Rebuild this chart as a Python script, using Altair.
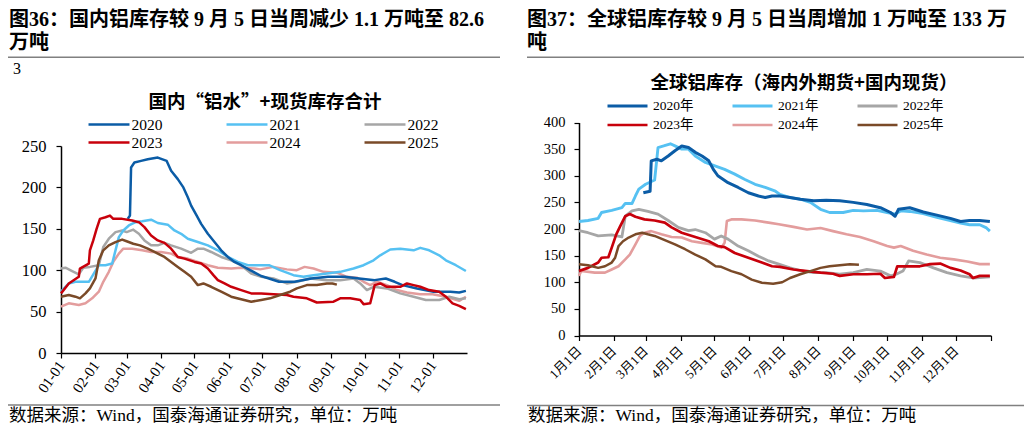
import altair as alt
import pandas as pd

# ---------------- categories / labels ----------------
YEARS = ["2020", "2021", "2022", "2023", "2024", "2025"]
YEARS_CN = ["2020年", "2021年", "2022年", "2023年", "2024年", "2025年"]
COLORS = ["#0B5CA6", "#56C1F2", "#A6A6A6", "#C8000B", "#E39D9D", "#7A4A28"]
DRAW_ORDER = ["2024", "2022", "2021", "2020", "2023", "2025"]

MONTH_DAYS = [0, 31, 59, 90, 120, 151, 181, 212, 243, 273, 304, 334]
LEFT_TICK_LABELS = ["01-01", "02-01", "03-01", "04-01", "05-01", "06-01",
                    "07-01", "08-01", "09-01", "10-01", "11-01", "12-01"]
RIGHT_TICK_LABELS = ["1月1日", "2月1日", "3月1日", "4月1日", "5月1日", "6月1日",
                     "7月1日", "8月1日", "9月1日", "10月1日", "11月1日", "12月1日"]
LEFT_Y_TICKS = [0, 50, 100, 150, 200, 250]
RIGHT_Y_TICKS = [0, 50, 100, 150, 200, 250, 300, 350, 400]

# ---------------- texts ----------------
HEAD_L1 = "图36：国内铝库存较 9 月 5 日当周减少 1.1 万吨至 82.6"
HEAD_L2 = "万吨"
HEAD_R1 = "图37：全球铝库存较 9 月 5 日当周增加 1 万吨至 133 万"
HEAD_R2 = "吨"
STRAY = "3"
TITLE_L = "国内“铝水”+现货库存合计"
TITLE_R = "全球铝库存（海内外期货+国内现货）"
SOURCE = "数据来源：Wind，国泰海通证券研究，单位：万吨"

# ---------------- domestic (万吨), day-of-year ----------------
DOM_2020_DAYS = [60, 62, 63, 66, 72, 78, 87, 95, 99, 105, 110, 114, 117, 122, 126, 132, 138, 144, 150, 156,
                 162, 170, 180, 196, 210, 225, 240, 255, 268, 282, 292, 300, 307, 320, 335, 350, 358, 364]
DOM_2020_VALS = [162, 166, 224, 230, 232, 234, 236, 232, 220, 210, 200, 188, 178, 166, 156, 144, 134, 124, 116, 110,
                 106, 100, 93, 86, 86, 90, 92, 92, 90, 88, 90, 86, 82, 78, 74, 74, 73, 75]

DOM_2021_DAYS = [0, 7, 13, 25, 26, 34, 40, 46, 49, 52, 56, 61, 67, 73, 81, 87, 96, 102, 108, 114, 123, 132, 141,
                 150, 159, 168, 177, 187, 197, 209, 218, 227, 239, 251, 263, 272, 281, 287, 296, 305, 317, 323,
                 331, 340, 346, 355, 364]
DOM_2021_VALS = [74, 84, 86, 86, 88, 106, 106, 108, 124, 140, 148, 154, 158, 159, 161, 157, 155, 148, 144, 138, 134,
                 130, 124, 116, 110, 106, 106, 106, 100, 94, 92, 94, 96, 98, 102, 106, 112, 118, 125, 126, 124, 127,
                 124, 118, 112, 106, 99]

DOM_2022_DAYS = [0, 4, 10, 16, 20, 26, 34, 38, 43, 49, 55, 59, 65, 70, 75, 81, 87, 93, 99, 108, 117, 123, 128, 135,
                 144, 153, 162, 171, 180, 191, 203, 212, 224, 239, 251, 263, 269, 275, 281, 293, 305, 317, 328, 340,
                 349, 358, 364]
DOM_2022_VALS = [102, 103, 99, 95, 103, 104, 106, 128, 138, 146, 148, 146, 149, 144, 136, 130, 130, 133, 130, 126,
                 121, 126, 126, 122, 116, 112, 106, 96, 92, 90, 84, 86, 90, 88, 88, 90, 84, 76, 80, 78, 72, 68, 64,
                 64, 68, 65, 66]

DOM_2023_DAYS = [0, 7, 16, 17, 25, 26, 29, 32, 35, 40, 44, 47, 55, 64, 70, 75, 81, 87, 93, 99, 105, 111, 120, 126,
                 132, 137, 141, 147, 153, 162, 171, 180, 191, 203, 209, 221, 230, 245, 251, 260, 269, 272, 278, 282,
                 287, 293, 299, 305, 311, 317, 323, 331, 340, 346, 352, 358, 364]
DOM_2023_VALS = [72, 84, 92, 102, 108, 124, 136, 150, 162, 164, 166, 162, 162, 160, 158, 152, 142, 136, 133, 126,
                 116, 114, 110, 108, 102, 94, 88, 84, 80, 76, 72, 72, 71, 70, 68, 66, 61, 62, 66, 66, 64, 59, 60, 82,
                 84, 80, 80, 80, 84, 82, 80, 76, 74, 68, 60, 57, 53]

DOM_2024_DAYS = [0, 7, 16, 22, 28, 34, 38, 43, 47, 52, 56, 64, 73, 81, 90, 99, 105, 114, 123, 132, 141, 153, 162,
                 174, 179, 191, 203, 212, 219, 227, 236, 248, 257, 266, 272, 278, 284, 293, 302, 311, 323, 334, 346,
                 358, 364]
DOM_2024_VALS = [56, 60, 58, 60, 66, 74, 86, 98, 110, 120, 126, 126, 124, 122, 122, 120, 116, 114, 110, 106, 103,
                 102, 103, 102, 101, 104, 101, 100, 104, 102, 98, 97, 92, 91, 86, 82, 86, 82, 76, 73, 71, 71, 68,
                 63, 68]

DOM_2025_DAYS = [0, 7, 13, 17, 22, 26, 31, 34, 38, 43, 49, 55, 59, 65, 71, 78, 84, 93, 99, 105, 111, 117, 123, 128,
                 135, 144, 153, 162, 171, 180, 188, 197, 206, 212, 221, 230, 239, 244, 248]
DOM_2025_VALS = [68, 70, 68, 66, 72, 78, 90, 112, 124, 130, 134, 137, 135, 132, 130, 126, 122, 116, 110, 104, 98,
                 92, 82, 84, 80, 74, 68, 65, 62, 64, 66, 70, 74, 78, 82, 82, 84, 84, 82.6]

# ---------------- global (万吨), day-of-year ----------------
GLB_2020_DAYS = [57, 63, 64, 69, 73, 79, 85, 91, 97, 103, 109, 115, 119, 123, 132, 141, 150, 159, 165, 171, 178,
                 187, 196, 208, 219, 231, 243, 255, 267, 276, 280, 283, 293, 305, 317, 329, 338, 346, 355, 364]
GLB_2020_VALS = [268, 271, 328, 331, 328, 337, 347, 356, 353, 344, 337, 328, 312, 300, 287, 278, 268, 262, 259, 262,
                 262, 259, 256, 253, 254, 253, 250, 246, 240, 231, 224, 237, 240, 232, 226, 220, 214, 216, 216, 214]

GLB_2021_DAYS = [0, 8, 17, 20, 29, 38, 41, 47, 50, 53, 59, 67, 70, 75, 81, 85, 91, 97, 103, 112, 121, 129, 138, 147,
                 156, 165, 174, 178, 187, 196, 205, 214, 222, 234, 243, 252, 264, 273, 280, 285, 293, 305, 317, 329,
                 338, 346, 355, 361, 364]
GLB_2021_VALS = [214, 216, 220, 231, 235, 240, 248, 248, 262, 275, 284, 292, 353, 356, 360, 356, 350, 350, 337, 325,
                 318, 312, 303, 293, 284, 278, 271, 265, 259, 256, 250, 237, 231, 231, 235, 234, 235, 231, 228, 234,
                 233, 229, 222, 216, 211, 208, 208, 202, 196]

GLB_2022_DAYS = [0, 8, 17, 29, 38, 41, 47, 53, 61, 70, 79, 88, 97, 103, 112, 120, 126, 132, 141, 150, 159, 168, 177,
                 187, 196, 208, 219, 231, 243, 255, 267, 276, 281, 287, 292, 302, 314, 326, 338, 349, 364]
GLB_2022_VALS = [197, 193, 187, 189, 185, 224, 234, 237, 233, 228, 216, 203, 197, 199, 193, 181, 187, 181, 168, 159,
                 149, 140, 134, 127, 122, 118, 118, 115, 118, 124, 121, 112, 115, 121, 140, 137, 127, 118, 112, 108,
                 110]

GLB_2023_DAYS = [0, 8, 17, 20, 26, 29, 33, 36, 41, 45, 50, 58, 67, 76, 82, 91, 103, 115, 123, 129, 138, 150, 162,
                 171, 178, 190, 202, 214, 225, 231, 243, 255, 267, 271, 279, 282, 290, 302, 311, 320, 329, 338, 346,
                 349, 355, 364]
GLB_2023_VALS = [121, 127, 137, 146, 147, 165, 190, 203, 224, 228, 223, 218, 216, 212, 203, 193, 185, 177, 168, 166,
                 155, 146, 137, 130, 129, 124, 121, 118, 116, 112, 115, 115, 116, 108, 110, 130, 130, 130, 134, 135,
                 127, 122, 115, 108, 112, 112]

GLB_2024_DAYS = [0, 2, 14, 23, 29, 35, 41, 45, 50, 54, 58, 64, 73, 82, 91, 100, 109, 118, 126, 129, 131, 135, 144,
                 156, 168, 177, 190, 202, 214, 225, 237, 249, 261, 273, 279, 285, 296, 308, 320, 332, 344, 355, 364]
GLB_2024_VALS = [112, 121, 118, 118, 124, 130, 143, 152, 171, 187, 193, 196, 190, 185, 184, 177, 174, 171, 165, 174,
                 215, 218, 218, 216, 212, 209, 204, 199, 202, 196, 190, 185, 177, 168, 165, 168, 159, 152, 146, 143,
                 139, 134, 134]

GLB_2025_DAYS = [0, 8, 17, 23, 29, 32, 35, 39, 44, 50, 56, 61, 67, 76, 85, 94, 103, 112, 121, 126, 135, 144, 153,
                 162, 172, 180, 187, 196, 205, 214, 222, 231, 240, 248]
GLB_2025_VALS = [134, 132, 127, 130, 137, 146, 168, 177, 184, 190, 193, 190, 187, 179, 171, 162, 152, 143, 130, 129,
                 121, 115, 105, 99, 97, 100, 108, 115, 121, 127, 130, 132, 134, 133]

DOM_SERIES = {"2020": (DOM_2020_DAYS, DOM_2020_VALS), "2021": (DOM_2021_DAYS, DOM_2021_VALS),
              "2022": (DOM_2022_DAYS, DOM_2022_VALS), "2023": (DOM_2023_DAYS, DOM_2023_VALS),
              "2024": (DOM_2024_DAYS, DOM_2024_VALS), "2025": (DOM_2025_DAYS, DOM_2025_VALS)}
GLB_SERIES = {"2020": (GLB_2020_DAYS, GLB_2020_VALS), "2021": (GLB_2021_DAYS, GLB_2021_VALS),
              "2022": (GLB_2022_DAYS, GLB_2022_VALS), "2023": (GLB_2023_DAYS, GLB_2023_VALS),
              "2024": (GLB_2024_DAYS, GLB_2024_VALS), "2025": (GLB_2025_DAYS, GLB_2025_VALS)}


def build(series, suffix):
    rows = []
    for y in DRAW_ORDER:
        days, vals = series[y]
        for d, v in zip(days, vals):
            rows.append({"day": d, "value": v, "series": y + suffix})
    return pd.DataFrame(rows)


dom_df = build(DOM_SERIES, "")
glb_df = build(GLB_SERIES, "年")

SERIF = "'Liberation Serif', 'Noto Sans CJK SC'"
CJK = "'Noto Sans CJK SC'"

W, H = 1016, 417


def label_expr(labels):
    arr = "[" + ",".join("'%s'" % s for s in labels) + "]"
    idx = "indexof([" + ",".join(str(d) for d in MONTH_DAYS) + "], datum.value)"
    return "%s < 0 ? '' : %s[%s]" % (idx, arr, idx)


axis_common = dict(grid=False, title=None, domainColor="black", domainWidth=1.5, tickColor="black",
                   tickWidth=1.2, labelColor="black", labelFont=SERIF)

# ---------------- left panel ----------------
left_legend = alt.Legend(orient="none", legendX=91.5, legendY=107, direction="horizontal", columns=3, title=None,
                         symbolType="M-2.56,0H2.56", symbolSize=256, symbolStrokeWidth=3, labelFont=SERIF,
                         labelFontSize=15.5, labelColor="black", labelOffset=13, columnPadding=59, rowPadding=0,
                         padding=0)
left_lines = alt.Chart(dom_df).mark_line(strokeJoin="round").encode(
    x=alt.X("day:Q", scale=alt.Scale(domain=[0, 365], range=[53, 459], nice=False, zero=False),
            axis=alt.Axis(orient="bottom", offset=345 - H, values=MONTH_DAYS,
                          labelExpr=label_expr(LEFT_TICK_LABELS),
                          labelAngle=305, labelAlign="right", labelBaseline="middle", labelFontSize=15,
                          tickSize=5, labelPadding=4, labelOverlap=False, labelFlush=False, labelBound=False,
                          **axis_common)),
    y=alt.Y("value:Q", scale=alt.Scale(domain=[0, 250], range=[345, 138], nice=False),
            axis=alt.Axis(orient="left", offset=-53, values=LEFT_Y_TICKS, labelFontSize=16.5, tickSize=5,
                          labelPadding=10, **axis_common)),
    color=alt.Color("series:N", scale=alt.Scale(domain=YEARS, range=COLORS), legend=left_legend),
    strokeWidth=alt.StrokeWidth("series:N", scale=alt.Scale(domain=YEARS, range=[2.5, 2.5, 4, 2.5, 4, 5]),
                                legend=left_legend),
)

# ---------------- right panel ----------------
right_legend = alt.Legend(orient="none", legendX=610, legendY=88.5, direction="horizontal", columns=3, title=None,
                          symbolType="M-2.5,0H2.5", symbolSize=256, symbolStrokeWidth=3, labelFont=SERIF,
                          labelFontSize=13.5, labelColor="black", labelOffset=16, columnPadding=32, rowPadding=3,
                          padding=0)
right_lines = alt.Chart(glb_df).mark_line(strokeJoin="round").encode(
    x=alt.X("day:Q", scale=alt.Scale(domain=[0, 365], range=[571, 983], nice=False, zero=False),
            axis=alt.Axis(orient="bottom", offset=327.5 - H, values=MONTH_DAYS + [365],
                          labelExpr=label_expr(RIGHT_TICK_LABELS), labelAngle=315, labelAlign="right",
                          labelBaseline="middle", labelFontSize=13, tickSize=5, labelPadding=8, labelOverlap=False,
                          labelFlush=False, labelBound=False, **axis_common)),
    y=alt.Y("value:Q", scale=alt.Scale(domain=[0, 400], range=[327.5, 114.5], nice=False),
            axis=alt.Axis(orient="left", offset=-571, values=RIGHT_Y_TICKS, labelFontSize=14.5, tickSize=5,
                          labelPadding=9, **axis_common)),
    color=alt.Color("series:N", scale=alt.Scale(domain=YEARS_CN, range=COLORS), legend=right_legend),
    strokeWidth=alt.StrokeWidth("series:N", scale=alt.Scale(domain=YEARS_CN, range=[3, 2.5, 4, 3, 3.5, 4.5]),
                                legend=right_legend),
)


# ---------------- decorations ----------------
def text_layer(txt, x, y, size, font, weight="normal", align="left"):
    return alt.Chart(pd.DataFrame({"t": [txt]})).mark_text(
        align=align, baseline="middle", fontSize=size, font=font, fontWeight=weight, color="black"
    ).encode(text="t:N", x=alt.value(x), y=alt.value(y))


def hrule(x1, x2, y):
    return alt.Chart(pd.DataFrame({"k": [0]})).mark_rule(color="#808080", strokeWidth=1.5).encode(
        x=alt.value(x1), x2=alt.value(x2), y=alt.value(y))


decor = [
    text_layer(HEAD_L1, 1, 11.5, 20, SERIF, "bold"),
    text_layer(HEAD_L2, 1, 35, 20, SERIF, "bold"),
    text_layer(HEAD_R1, 519, 11.5, 20, SERIF, "bold"),
    text_layer(HEAD_R2, 519, 35, 20, SERIF, "bold"),
    hrule(0, 492, 49.3),
    hrule(519, 1016, 49.3),
    text_layer(STRAY, 5, 61, 16, SERIF),
    text_layer(TITLE_L, 257, 94, 18.5, CJK, "bold", "center"),
    text_layer(TITLE_R, 796, 75, 18.5, CJK, "bold", "center"),
    hrule(0, 492, 397),
    hrule(519, 1016, 397.5),
    text_layer(SOURCE, 1, 408, 17.5, SERIF),
    text_layer(SOURCE, 520, 408, 17.5, SERIF),
]

chart = alt.layer(left_lines, right_lines, *decor).resolve_scale(
    x="independent", y="independent", color="independent", strokeWidth="independent"
).properties(
    width=W, height=H, autosize="none", padding=0, background="white"
).configure_view(stroke=None)

chart.save("out.html", embed_options={"renderer": "svg", "actions": False})
